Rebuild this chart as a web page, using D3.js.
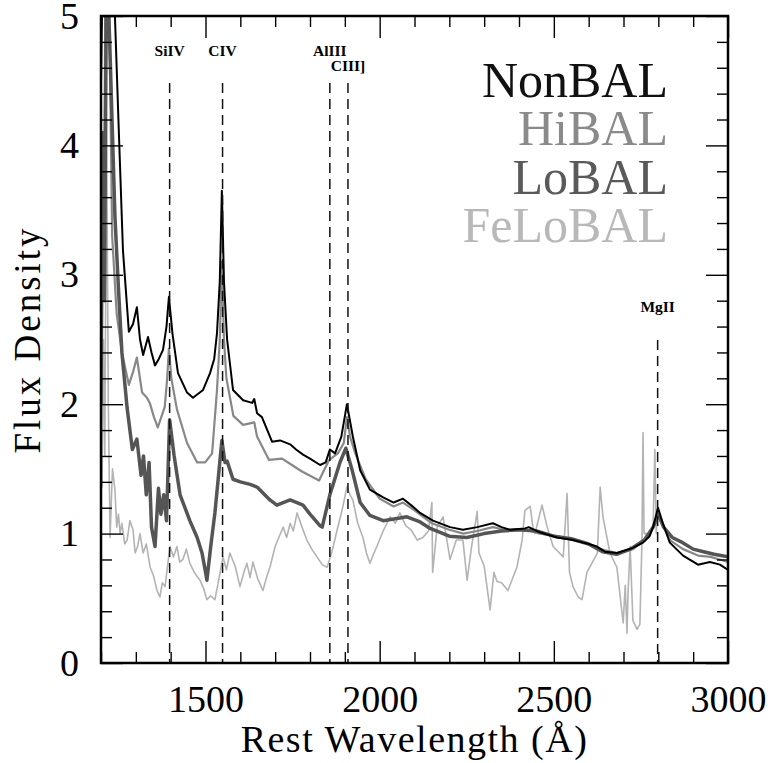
<!DOCTYPE html>
<html>
<head>
<meta charset="utf-8">
<script src="https://cdn.jsdelivr.net/npm/d3@7"></script>
<style>
  html, body { margin: 0; padding: 0; background: #fff; }
  svg { display: block; }
</style>
</head>
<body>
<svg id="chart" width="770" height="763"></svg>
<script>
// Composite spectra (wavelength in Angstrom, flux density)
const nonbalWave = [1200,1208,1216,1240,1250,1263,1280,1292,1303,1312,1321,1335,1345,1355,1366,1378,1388,1395,1405,1421,1447,1464,1493,1513,1525,1533,1541,1547,1553,1562,1579,1608,1634,1640,1648,1662,1691,1714,1743,1760,1780,1800,1829,1845,1857,1872,1890,1906,1923,1944,1972,2010,2040,2067,2090,2116,2153,2202,2239,2280,2325,2350,2374,2417,2428,2460,2509,2555,2600,2624,2647,2681,2727,2756,2775,2785,2799,2813,2833,2871,2914,2948,2977,3000];
const nonbalFlux = [4.5,6.0,9.0,5.0,4.2,3.19,2.56,2.62,2.75,2.5,2.38,2.52,2.4,2.30,2.35,2.42,2.6,2.83,2.55,2.24,2.09,2.05,2.11,2.24,2.35,2.55,2.95,3.65,2.95,2.5,2.11,2.03,2.01,2.04,1.93,1.90,1.71,1.72,1.69,1.65,1.61,1.58,1.53,1.55,1.65,1.62,1.75,2.0,1.75,1.49,1.34,1.28,1.24,1.27,1.22,1.16,1.10,1.05,1.03,1.05,1.08,1.05,1.03,1.04,1.05,1.01,0.97,0.95,0.92,0.90,0.86,0.85,0.89,0.93,0.98,1.05,1.20,1.08,0.93,0.83,0.76,0.78,0.76,0.72];

const hibalWave = [1200,1210,1216,1224,1232,1245,1260,1280,1292,1303,1318,1332,1340,1352,1363,1383,1390,1395,1402,1418,1447,1476,1499,1519,1533,1541,1547,1553,1560,1580,1608,1640,1648,1682,1720,1748,1777,1826,1855,1880,1897,1906,1915,1930,1960,2000,2040,2067,2100,2150,2200,2240,2280,2325,2374,2420,2460,2510,2555,2600,2647,2681,2727,2760,2785,2799,2815,2833,2871,2914,2950,3000];
const hibalFlux = [2.8,4.0,7.0,5.0,3.3,2.7,2.4,2.15,2.25,2.36,2.09,2.05,2.01,1.9,1.82,1.98,2.2,2.43,2.2,1.96,1.70,1.55,1.55,1.62,2.11,2.5,3.1,2.5,2.2,1.91,1.84,1.86,1.75,1.57,1.58,1.53,1.48,1.41,1.57,1.62,1.70,1.90,1.75,1.62,1.42,1.27,1.21,1.24,1.18,1.08,1.03,1.00,1.02,1.05,1.02,1.03,1.00,0.98,0.95,0.92,0.87,0.85,0.88,0.95,1.05,1.15,1.05,0.95,0.88,0.83,0.82,0.78];

const lobalWave = [1200,1205,1210,1216,1225,1240,1250,1260,1275,1290,1303,1315,1322,1330,1338,1345,1355,1365,1372,1380,1388,1397,1410,1427,1455,1476,1490,1499,1504,1515,1527,1536,1547,1556,1562,1579,1600,1628,1648,1670,1685,1705,1743,1780,1800,1829,1835,1857,1886,1903,1921,1944,1972,2010,2058,2078,2116,2145,2200,2250,2300,2350,2400,2450,2500,2550,2600,2640,2680,2720,2760,2785,2800,2815,2840,2870,2900,2930,2960,3000];
const lobalFlux = [2.0,4.1,2.8,5.5,4.8,3.45,2.9,2.4,1.97,1.65,1.73,1.45,1.6,1.3,1.55,1.05,0.9,1.35,1.15,1.3,1.1,1.88,1.6,1.3,1.10,0.97,0.85,0.72,0.64,0.9,1.16,1.41,1.72,1.55,1.56,1.42,1.40,1.38,1.36,1.30,1.26,1.22,1.26,1.22,1.15,1.06,1.05,1.30,1.55,1.66,1.49,1.24,1.14,1.10,1.12,1.13,1.09,1.04,0.98,0.97,1.0,1.02,1.03,1.02,0.98,0.96,0.92,0.86,0.84,0.88,0.95,1.05,1.15,1.05,0.97,0.93,0.88,0.86,0.84,0.82];

const felobalWave = [1200,1203,1207,1211,1216,1221,1226,1233,1240,1245,1250,1255,1260,1268,1275,1283,1292,1298,1305,1312,1321,1330,1341,1350,1361,1369,1376,1384,1391,1398,1408,1418,1426,1435,1445,1455,1468,1484,1494,1504,1515,1527,1535,1542,1550,1560,1570,1585,1599,1610,1619,1628,1636,1650,1665,1675,1685,1700,1712,1723,1733,1743,1752,1763,1777,1791,1805,1820,1835,1849,1863,1878,1892,1906,1915,1923,1937,1952,1962,1972,1982,1992,2010,2030,2045,2058,2075,2090,2108,2124,2140,2150,2152,2165,2182,2202,2220,2239,2251,2265,2280,2285,2300,2317,2328,2337,2350,2368,2394,2409,2417,2432,2440,2446,2466,2481,2498,2527,2538,2545,2555,2570,2581,2595,2625,2633,2641,2661,2681,2699,2705,2710,2713,2719,2727,2739,2747,2753,2756,2759,2776,2785,2790,2794,2799];
const felobalFlux = [1.45,1.36,2.5,1.6,4.2,2.0,0.97,1.5,1.34,1.05,1.15,1.0,1.08,0.92,0.95,1.1,1.03,0.85,0.9,1.0,0.85,0.92,0.74,0.68,0.56,0.51,0.62,0.59,0.75,0.90,0.82,0.90,0.78,0.80,0.88,0.77,0.70,0.64,0.58,0.49,0.52,0.49,0.60,0.70,0.82,0.72,0.85,0.75,0.59,0.70,0.77,0.66,0.78,0.65,0.56,0.66,0.74,0.90,0.98,1.05,0.97,1.08,1.02,1.16,1.05,0.95,0.88,0.82,0.76,0.74,0.86,1.03,1.18,1.36,1.30,1.26,1.08,0.97,0.85,0.77,0.84,0.90,1.02,1.13,1.08,1.16,1.06,1.03,0.95,0.97,1.02,1.24,0.70,1.05,1.13,0.80,0.95,0.95,0.64,0.92,1.17,0.85,0.75,0.41,0.70,0.63,0.62,0.56,0.74,0.95,1.18,1.21,1.05,1.0,1.22,1.05,0.90,0.82,1.31,0.7,0.59,0.51,0.49,0.70,0.85,1.36,1.13,0.85,0.74,0.31,0.6,0.23,0.54,0.9,0.33,0.26,0.3,0.95,1.78,1.0,1.0,1.05,1.65,1.0,1.2];

// Emission line markers
const lineNames = ['SiIV', 'CIV', 'AlIII', 'CIII]', 'MgII'];
const lineWaves = [1397, 1549, 1857, 1909, 2798];

// Axis ticks
const xMajorTicks = [1500, 2000, 2500, 3000];
const xMinorTicks = d3.range(1200, 3001, 100).filter(v => v % 500 !== 0);
const yMajorTicks = [0, 1, 2, 3, 4, 5];
const yMinorTicks = d3.range(0.2, 5, 0.2).filter(v => Math.abs(v - Math.round(v)) > 0.01);

const legendLabels = ['NonBAL', 'HiBAL', 'LoBAL', 'FeLoBAL'];

// ---------------------------------------------------------------
const width = 770, height = 763;
const margin = { top: 16, right: 42, bottom: 100, left: 101 };
const innerWidth = width - margin.left - margin.right;
const innerHeight = height - margin.top - margin.bottom;
const FONT = '"Liberation Serif", "DejaVu Serif", serif';

const svg = d3.select('#chart');
const g = svg.append('g').attr('transform', `translate(${margin.left},${margin.top})`);

const x = d3.scaleLinear().domain([1200, 3000]).range([0, innerWidth]);
const y = d3.scaleLinear().domain([0, 5]).range([innerHeight, 0]);

svg.append('defs').append('clipPath').attr('id', 'plot-clip')
  .append('rect').attr('width', innerWidth).attr('height', innerHeight);

// Spectra, drawn back to front
const series = [
  { wave: felobalWave, flux: felobalFlux, color: '#b3b3b3', w: 1.6 },
  { wave: hibalWave, flux: hibalFlux, color: '#888', w: 2.2 },
  { wave: lobalWave, flux: lobalFlux, color: '#555', w: 3.5 },
  { wave: nonbalWave, flux: nonbalFlux, color: '#000', w: 2 }
];

const line = d3.line().x(d => x(d[0])).y(d => y(d[1]));
const curves = g.append('g').attr('clip-path', 'url(#plot-clip)');

curves.selectAll('path')
  .data(series)
  .join('path')
  .attr('d', s => line(d3.zip(s.wave, s.flux)))
  .attr('fill', 'none')
  .attr('stroke', s => s.color)
  .attr('stroke-width', s => s.w)
  .attr('stroke-linejoin', 'round');

// Dashed line markers and their labels
const labelY = { 'SiIV': 56, 'CIV': 56, 'AlIII': 56, 'CIII]': 71, 'MgII': 312 };
const dashTop = { 'SiIV': 83, 'CIV': 83, 'AlIII': 83, 'CIII]': 83, 'MgII': 340 };
const markers = d3.zip(lineNames, lineWaves);

g.append('g').selectAll('line')
  .data(markers)
  .join('line')
  .attr('x1', d => x(d[1])).attr('x2', d => x(d[1]))
  .attr('y1', d => dashTop[d[0]] - margin.top)
  .attr('y2', innerHeight)
  .attr('stroke', '#111')
  .attr('stroke-width', 1.5)
  .attr('stroke-dasharray', '10,6');

g.append('g').selectAll('text')
  .data(markers)
  .join('text')
  .attr('x', d => x(d[1]))
  .attr('y', d => labelY[d[0]] - margin.top)
  .attr('text-anchor', 'middle')
  .attr('font-family', FONT)
  .attr('font-weight', 'bold')
  .attr('font-size', 15.5)
  .text(d => d[0]);

// Axes: ticks point inward on all four sides
function tickAxis(axis, values, size) {
  return axis.tickValues(values).tickSizeInner(-size).tickSizeOuter(0);
}

const axes = [
  { make: d3.axisBottom, scale: x, t: `translate(0,${innerHeight})`, major: xMajorTicks, minor: xMinorTicks, labels: true },
  { make: d3.axisTop, scale: x, t: 'translate(0,0)', major: xMajorTicks, minor: xMinorTicks, labels: false },
  { make: d3.axisLeft, scale: y, t: 'translate(0,0)', major: yMajorTicks, minor: yMinorTicks, labels: true },
  { make: d3.axisRight, scale: y, t: `translate(${innerWidth},0)`, major: yMajorTicks, minor: yMinorTicks, labels: false }
];

axes.forEach(a => {
  const minor = g.append('g').attr('transform', a.t)
    .call(tickAxis(a.make(a.scale), a.minor, 11));
  const major = g.append('g').attr('transform', a.t)
    .call(tickAxis(a.make(a.scale), a.major, 22).tickPadding(22).tickFormat(d3.format('d')));

  [minor, major].forEach(sel => {
    sel.select('.domain').remove();
    sel.selectAll('line').attr('stroke', '#000').attr('stroke-width', 1.4);
  });
  minor.selectAll('text').remove();
  if (!a.labels) {
    major.selectAll('text').remove();
    return;
  }
  major.selectAll('text')
    .attr('font-family', FONT)
    .attr('font-size', 38)
    .attr('fill', '#000');
});

// Frame
g.append('rect')
  .attr('width', innerWidth)
  .attr('height', innerHeight)
  .attr('fill', 'none')
  .attr('stroke', '#000')
  .attr('stroke-width', 2.5);

// Axis titles
svg.append('text')
  .attr('x', margin.left + innerWidth / 2)
  .attr('y', 752)
  .attr('text-anchor', 'middle')
  .attr('font-family', FONT)
  .attr('font-size', 38)
  .attr('letter-spacing', 1.5)
  .text('Rest Wavelength (\u00C5)');

svg.append('text')
  .attr('transform', `translate(40,${margin.top + innerHeight / 2}) rotate(-90)`)
  .attr('text-anchor', 'middle')
  .attr('font-family', FONT)
  .attr('font-size', 37)
  .attr('letter-spacing', 3)
  .text('Flux Density');

// Legend, right aligned, colour matched to each spectrum
const legendColors = ['#111', '#8a8a8a', '#5a5a5a', '#b8b8b8'];
const legendBase = [97, 145, 194, 242];

svg.append('g').selectAll('text')
  .data(legendLabels)
  .join('text')
  .attr('x', 668)
  .attr('y', (d, i) => legendBase[i])
  .attr('text-anchor', 'end')
  .attr('font-family', FONT)
  .attr('font-size', 50)
  .attr('fill', (d, i) => legendColors[i])
  .text(d => d);
</script>
</body>
</html>
